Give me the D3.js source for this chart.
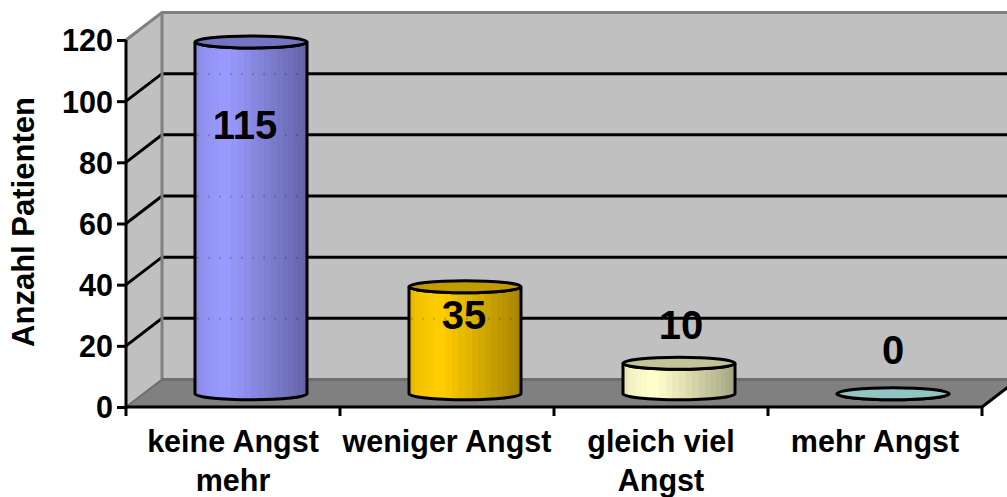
<!DOCTYPE html>
<html>
<head>
<meta charset="utf-8">
<style>
    html, body { margin:0; padding:0; background:white; overflow:hidden; }
    svg { display:block; }
    text { font-family:"Liberation Sans", Arial, sans-serif; font-weight:bold; fill:black; }
</style>
</head>
<body>
<div id="chart"></div>
<script src="https://cdn.jsdelivr.net/npm/d3@7"></script>
<script>
var categories = ["keine Angst mehr", "weniger Angst", "gleich viel Angst", "mehr Angst"];
var patients = [115, 35, 10, 0];
var barColors = ["#9999ff", "#ffcc00", "#ffffcc", "#99cccc"];
var yTicks = [0, 20, 40, 60, 80, 100, 120];

var width = 1007, height = 497;
var x0 = 126, x1 = 982, yBottom = 407, yTop = 40;
// 3d depth of the walls
var dx = 36, dy = -27.5;

var x = d3.scaleBand().domain(categories).range([x0, x1]);
var y = d3.scaleLinear().domain([0, 120]).range([yBottom, yTop]);

var svg = d3.select("#chart").append("svg").attr("width", width).attr("height", height);
var defs = svg.append("defs");

// cylinder shading: hard edged facets, narrow at the sides like the original
var shade = d3.scaleLinear()
    .domain([0, 0.08, 0.24, 0.3, 0.46, 0.7, 0.88, 1])
    .range([0.88, 0.95, 1, 1, 0.92, 0.8, 0.71, 0.64]);
var facets = 26;
barColors.forEach(function(c, i){
    var g = defs.append("linearGradient").attr("id", "cyl" + i);
    var col = d3.rgb(c);
    d3.range(facets).forEach(function(f){
        var a = (1 - Math.cos(Math.PI * f / facets)) / 2;
        var b = (1 - Math.cos(Math.PI * (f + 1) / facets)) / 2;
        var s = shade((a + b) / 2);
        var stop = d3.rgb(col.r*s, col.g*s, col.b*s).formatHex();
        g.append("stop").attr("offset", a).attr("stop-color", stop);
        g.append("stop").attr("offset", b).attr("stop-color", stop);
    });
});

var backX = x0 + dx, backR = x1 + dx, gray = "#808080";

// walls and floor
svg.append("polygon").attr("fill", "#c0c0c0").attr("stroke", "none")
    .attr("points", [[x0,yTop],[backX,yTop+dy],[backR,yTop+dy],[backR,yBottom+dy],[x0,yBottom]].join(" "));
svg.append("polygon").attr("fill", gray)
    .attr("points", [[x0,yBottom],[backX,yBottom+dy],[backR,yBottom+dy],[x1,yBottom]].join(" "));

// gridlines
yTicks.slice(1, -1).forEach(function(t){
    svg.append("path").attr("fill", "none").attr("stroke", "black").attr("stroke-width", 3)
        .attr("d", d3.line()([[x0,y(t)],[backX,y(t)+dy],[backR,y(t)+dy]]));
});

// gray frame of the walls
svg.append("path").attr("fill", "none").attr("stroke", gray).attr("stroke-width", 3)
    .attr("d", d3.line()([[x0,yTop],[backX,yTop+dy],[backR,yTop+dy]]));
svg.append("line").attr("stroke", gray).attr("stroke-width", 3)
    .attr("x1", backX).attr("x2", backX).attr("y1", yTop+dy).attr("y2", yBottom+dy);
svg.append("line").attr("stroke", "#6e6e6e").attr("stroke-width", 2)
    .attr("x1", x0).attr("x2", backX).attr("y1", yBottom).attr("y2", yBottom+dy);
svg.append("line").attr("stroke", "#6e6e6e").attr("stroke-width", 3)
    .attr("x1", backX).attr("x2", backR).attr("y1", yBottom+dy).attr("y2", yBottom+dy);

// cylinders
var rx = 56, ry = 6;
var bars = svg.selectAll("g.bar").data(patients).enter().append("g").attr("class", "bar")
    .attr("transform", function(d, i){ return "translate(" + (x(categories[i]) + x.bandwidth()/2 + dx/2) + "," + (dy/2 + 0.5) + ")"; });

bars.append("path")
    .attr("d", function(d){
        return "M" + (-rx) + "," + y(d) + "L" + (-rx) + "," + y(0)
            + "A" + rx + "," + ry + " 0 0 0 " + rx + "," + y(0)
            + "L" + rx + "," + y(d)
            + "A" + rx + "," + ry + " 0 0 1 " + (-rx) + "," + y(d) + "Z";
    })
    .attr("fill", function(d, i){ return "url(#cyl" + i + ")"; })
    .attr("stroke", "black").attr("stroke-width", 3);

// gridlines shine through as faint dots
bars.each(function(d){
    var b = d3.select(this);
    yTicks.slice(1, -1).filter(function(t){ return t < d; }).forEach(function(t){
        b.append("line").attr("x1", -rx+2).attr("x2", rx-2)
            .attr("y1", y(t)+dy/2).attr("y2", y(t)+dy/2)
            .attr("stroke", "black").attr("stroke-opacity", 0.18)
            .attr("stroke-width", 2).attr("stroke-dasharray", "2 9");
    });
});

bars.append("ellipse")
    .attr("cy", function(d){ return y(d); })
    .attr("rx", rx).attr("ry", ry)
    .attr("fill", function(d, i){
        var c = d3.rgb(barColors[i]);
        var k = i == 3 ? 0.96 : 0.76;
        return d3.rgb(c.r*k, c.g*k, c.b*k).formatHex();
    })
    .attr("stroke", "black").attr("stroke-width", 3);

// axes
var axisY = svg.append("g").attr("transform", "translate(" + x0 + ",0)")
    .call(d3.axisLeft(y).tickValues(yTicks).tickSize(9).tickPadding(4));
var axisX = svg.append("g").attr("transform", "translate(0," + yBottom + ")")
    .call(d3.axisBottom(x).tickValues([]).tickSize(0));
[axisY, axisX].forEach(function(a){
    a.selectAll("path, line").attr("stroke", "black").attr("stroke-width", 3);
});
axisY.selectAll("text").style("font-size", "30.5px").attr("dy", "0.36em").attr("x", -13);
axisY.select(".domain").attr("d", "M0," + yTop + "V" + yBottom);
axisX.select(".domain").attr("d", "M" + x0 + ",0H" + x1);

// tick marks between categories on the floor edge
svg.selectAll("line.xtick").data(d3.range(categories.length + 1)).enter().append("line")
    .attr("class", "xtick").attr("stroke", "black").attr("stroke-width", 3)
    .attr("x1", function(i){ return x0 + i * x.bandwidth(); })
    .attr("x2", function(i){ return x0 + i * x.bandwidth(); })
    .attr("y1", yBottom).attr("y2", yBottom + 9);
svg.append("line").attr("stroke", "black").attr("stroke-width", 3)
    .attr("x1", x1).attr("x2", x1 + dx).attr("y1", yBottom).attr("y2", yBottom + dy);

// category labels, wrapped to the band
var catFont = 30.5, catLine = 39;
svg.selectAll("text.cat").data(categories).enter().append("text")
    .attr("class", "cat").attr("text-anchor", "middle").style("font-size", catFont + "px")
    .attr("y", 452)
    .each(function(d){
        var t = d3.select(this), cx = x(d) + x.bandwidth()/2;
        var words = d.split(" "), line = [];
        var span = t.append("tspan").attr("x", cx);
        words.forEach(function(w){
            line.push(w);
            span.text(line.join(" "));
            if (span.node().getComputedTextLength() > x.bandwidth() && line.length > 1) {
                line.pop();
                span.text(line.join(" "));
                line = [w];
                span = t.append("tspan").attr("x", cx).attr("dy", catLine).text(w);
            }
        });
    });

// value labels
var labelX = [245, 464, 681, 893];
var labelY = [125, 315, 325, 350];
svg.selectAll("text.val").data(patients).enter().append("text")
    .attr("class", "val").attr("text-anchor", "middle").style("font-size", "40px")
    .attr("dy", "0.36em")
    .attr("x", function(d, i){ return labelX[i]; })
    .attr("y", function(d, i){ return labelY[i]; })
    .text(function(d){ return d; });

// axis title
svg.append("text").attr("text-anchor", "middle").style("font-size", "31px")
    .attr("transform", "translate(34,222) rotate(-90)")
    .text("Anzahl Patienten");
</script>
</body>
</html>
